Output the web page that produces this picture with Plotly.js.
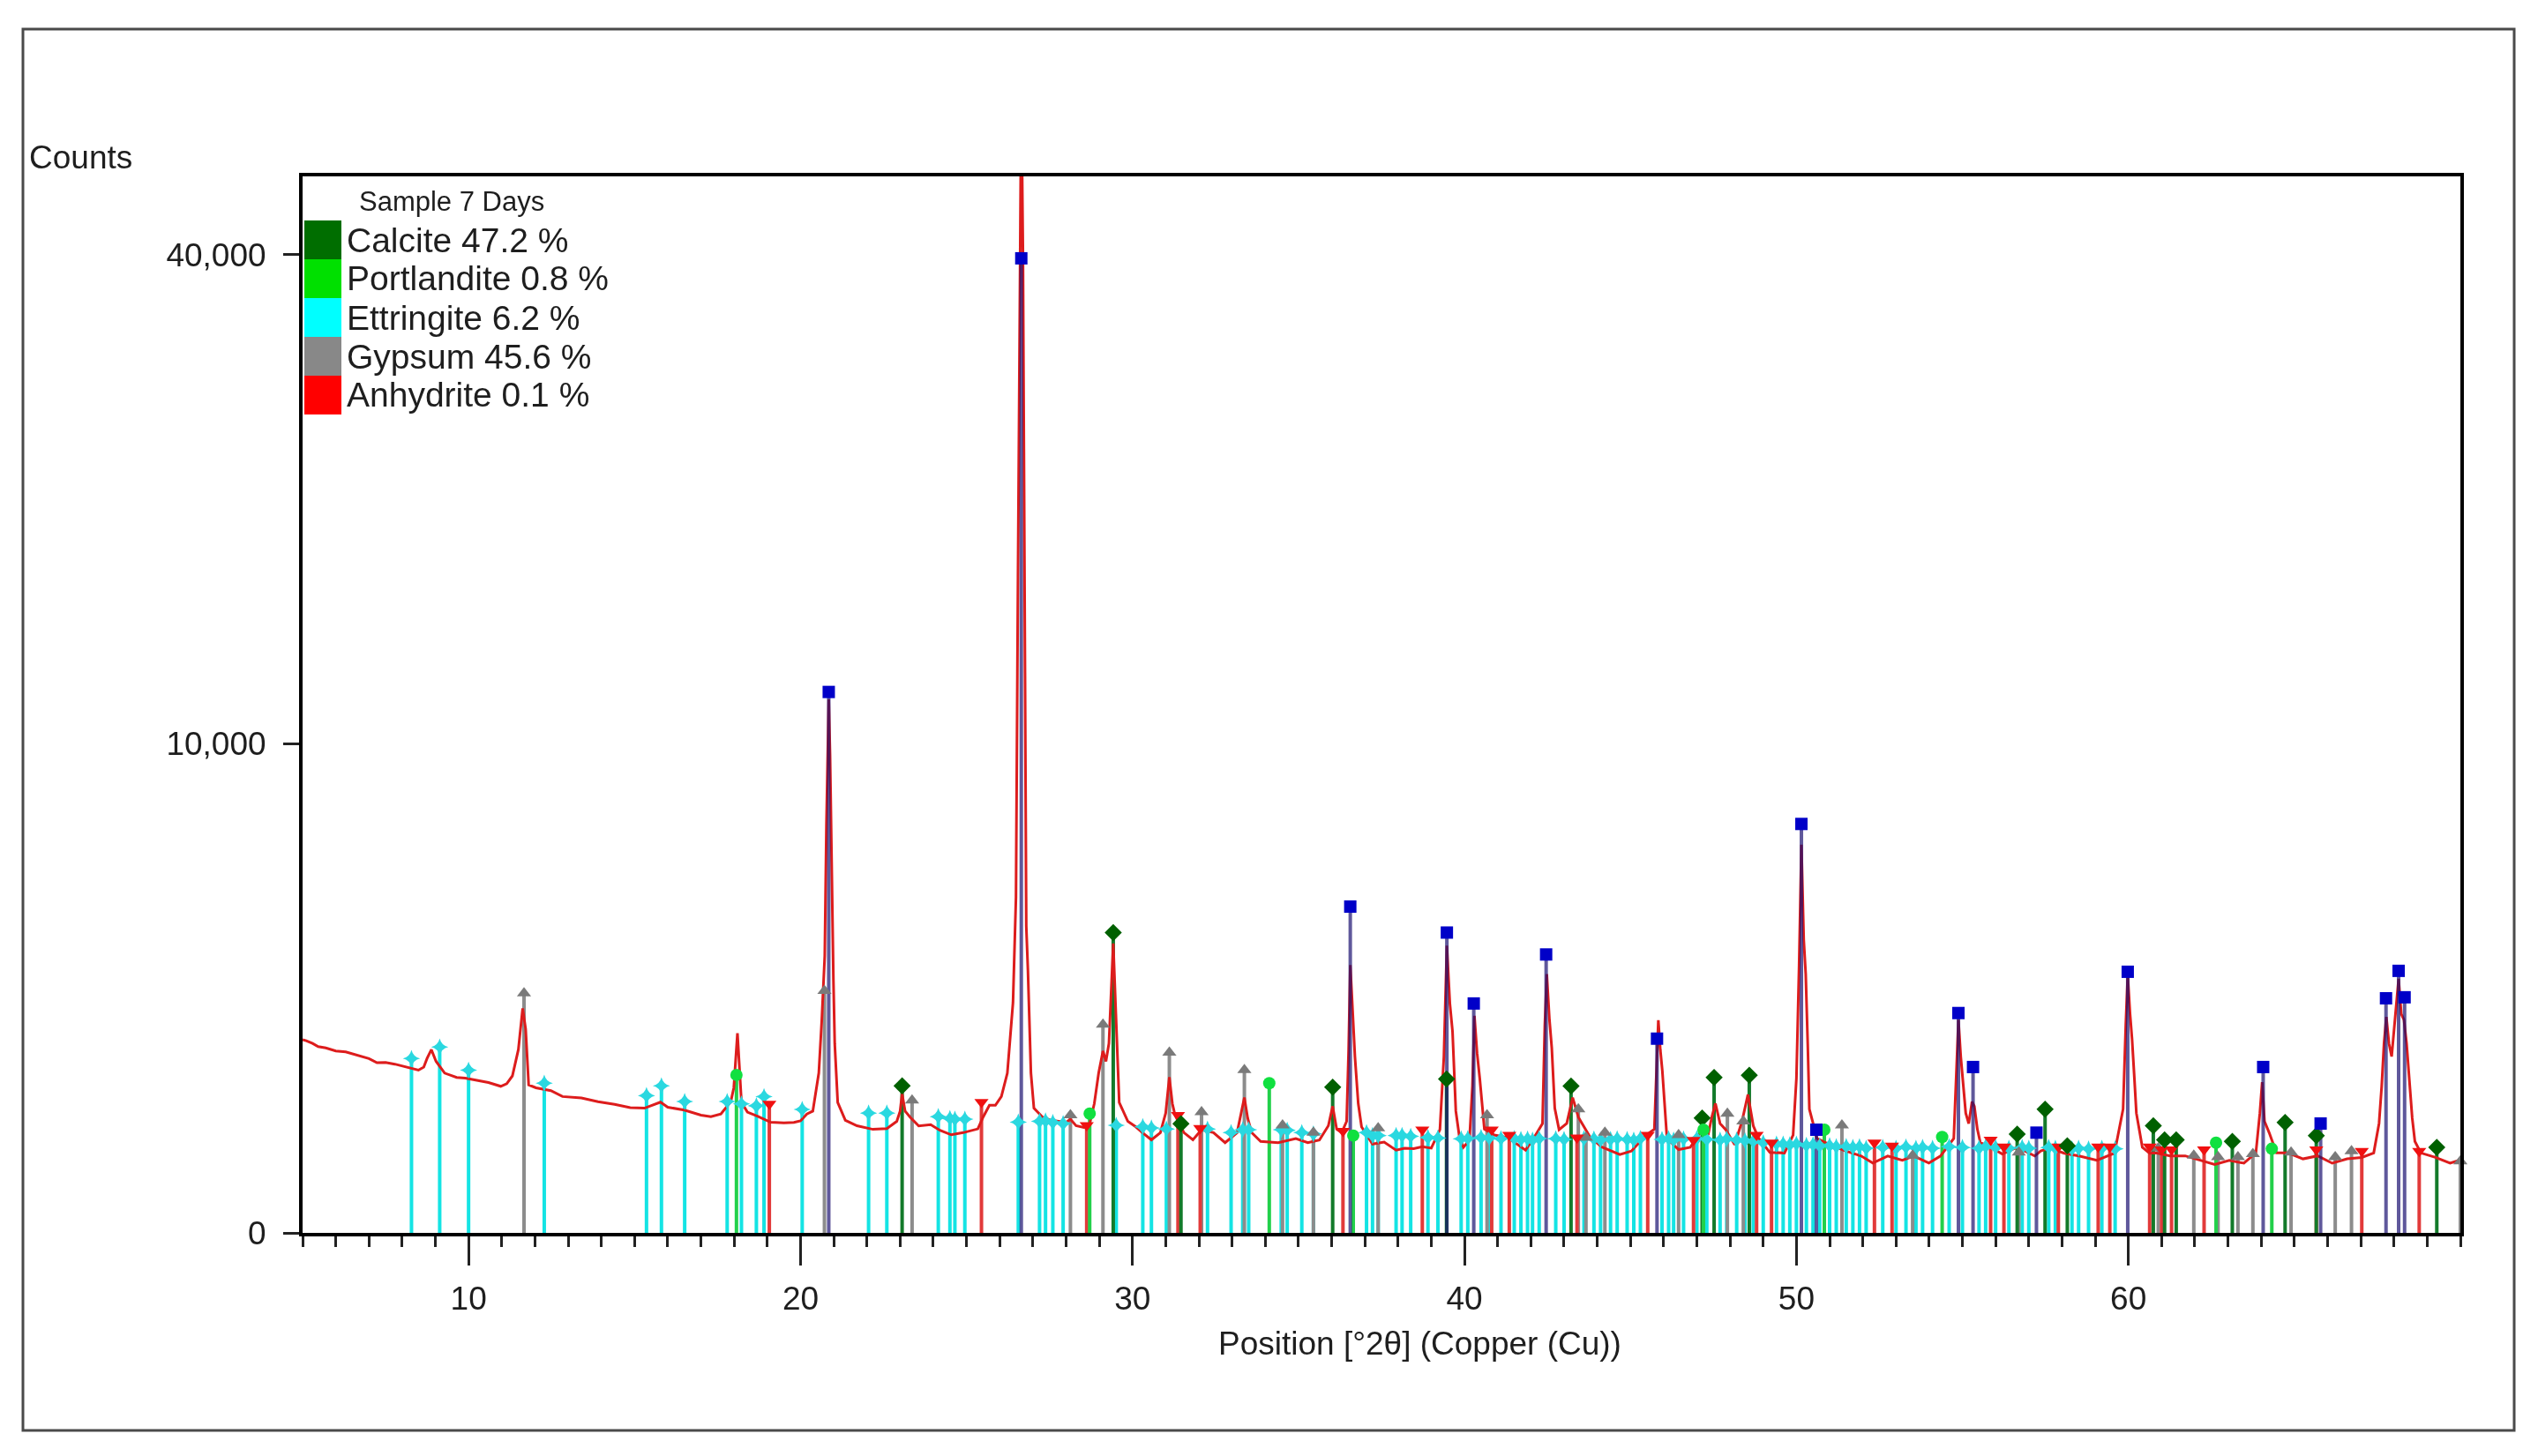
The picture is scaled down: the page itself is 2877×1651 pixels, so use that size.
<!DOCTYPE html>
<html>
<head>
<meta charset="utf-8">
<script src="https://cdn.plot.ly/plotly-3.0.1.min.js"></script>
<style>
  html, body { margin: 0; padding: 0; background: #fff; }
  #xrdPlot { width: 2877px; height: 1651px; }
</style>
</head>
<body>
<div id="xrdPlot"></div>
<script>
/* DATA */
// Measured pattern, position [°2θ] and counts
const twoTheta = [
  5.0, 5.11, 5.3, 5.47, 5.7, 6.0, 6.3, 6.71, 7.0, 7.24, 7.5, 7.78, 8.13, 8.49, 8.65, 8.75, 8.88, 9.02,
  9.28, 9.64, 9.9, 10.26, 10.6, 10.97, 11.15, 11.32, 11.5, 11.63, 11.72, 11.81, 12.03, 12.48, 12.83,
  13.4, 13.9, 14.4, 14.87, 15.3, 15.6, 15.78, 16.0, 16.5, 17.0, 17.3, 17.6, 17.76, 17.9, 17.99, 18.1,
  18.22, 18.4, 18.7, 19.1, 19.5, 19.8, 20.0, 20.19, 20.37, 20.55, 20.64, 20.73, 20.78, 20.82, 20.85,
  20.89, 20.94, 20.99, 21.03, 21.12, 21.35, 21.7, 22.18, 22.6, 22.9, 23.0, 23.06, 23.15, 23.3, 23.56,
  23.92, 24.2, 24.54, 24.9, 25.34, 25.5, 25.69, 25.87, 26.05, 26.23, 26.4, 26.49, 26.55, 26.6, 26.65,
  26.7, 26.75, 26.8, 26.85, 26.94, 27.03, 27.29, 27.55, 27.82, 28.0, 28.13, 28.3, 28.53, 28.71, 28.85,
  28.98, 29.11, 29.2, 29.29, 29.36, 29.42, 29.5, 29.6, 29.86, 30.1, 30.3, 30.57,
  30.84, 31.0, 31.11, 31.2, 31.28, 31.55, 31.82, 32.08, 32.44, 32.79, 33.15, 33.3, 33.37, 33.47,
  33.59, 33.86, 34.39, 34.92, 35.28, 35.63, 35.9, 36.03, 36.15, 36.3, 36.45, 36.51, 36.56, 36.62,
  36.7, 36.8, 36.9, 37.23, 37.58, 37.94, 38.2, 38.47, 38.73, 39.0, 39.26, 39.38, 39.47, 39.56,
  39.64, 39.74, 39.85, 39.97, 40.15, 40.24, 40.3, 40.38, 40.46, 40.6, 40.9, 41.3, 41.53, 41.84,
  42.1, 42.35, 42.42, 42.48, 42.56, 42.63, 42.72, 42.85, 43.08, 43.26, 43.43, 43.79, 44.14, 44.68,
  45.03, 45.47, 45.72, 45.79, 45.84, 45.9, 45.96, 46.1, 46.45, 46.8, 47.16, 47.34, 47.45, 47.56,
  47.7, 47.87, 48.14, 48.36, 48.54, 48.7, 48.85, 49.2, 49.64, 49.9, 50.0, 50.08, 50.15, 50.22,
  50.28, 50.34, 50.39, 50.62, 50.97, 51.41, 51.95, 52.3, 52.75, 53.19, 53.54, 53.99, 54.34, 54.74,
  54.82, 54.88, 54.95, 55.01, 55.1, 55.19, 55.29, 55.36, 55.45, 55.54, 55.85, 56.2, 56.65, 57.18,
  57.36, 57.63, 58.07, 58.51, 59.05, 59.58, 59.84, 59.92, 59.98, 60.05, 60.11, 60.18, 60.24,
  60.42, 60.64, 60.82, 61.26, 61.71, 62.15, 62.6, 63.04, 63.48, 63.84, 63.96, 64.03, 64.1, 64.24,
  64.46, 64.81, 65.26, 65.7, 66.14, 66.59, 67.03, 67.39, 67.55, 67.63, 67.7, 67.77, 67.85, 67.93,
  68.05, 68.14, 68.22, 68.3, 68.38, 68.45, 68.55, 68.63, 68.81, 69.25, 69.69, 69.96
];
const counts = [
  1560, 1543, 1500, 1450, 1430, 1383, 1370, 1316, 1270, 1210, 1215, 1190, 1148, 1107, 1150, 1273, 1404, 1230,
  1067, 1010, 1000, 972, 945, 898, 930, 1030, 1404, 2106, 1737, 916, 880, 845, 777,
  760, 720, 690, 656, 650, 690, 714, 660, 630, 580, 565, 590, 656, 720, 880, 1665,
  715, 610, 570, 512, 505, 510, 525, 590, 620, 1068, 1890, 3215, 7000, 10500, 11900,
  9500, 5000, 2690, 1500, 710, 530, 480, 448, 455, 520, 620, 810, 620, 560, 478,
  490, 440, 402, 420, 452, 560, 680, 680, 777, 1068, 2215, 4720, 18000, 40000, 55000,
  40000, 18000, 3930, 2880, 1068, 650, 560, 530, 520, 510, 540, 480, 465, 500, 700,
  1068, 1384, 1230, 1500, 2400, 3500, 2000, 710, 520, 470, 420, 362,
  420, 600, 1013, 700, 580, 420, 362, 445, 420, 340, 420, 650, 765, 550,
  420, 350, 340, 372, 340, 360, 480, 670, 450, 420, 520, 1400, 3000, 2200,
  1300, 700, 470, 330, 345, 286, 300, 297, 310, 300, 445, 1300, 3450, 2200,
  1700, 620, 380, 306, 360, 900, 1970, 1350, 1000, 450, 400, 380, 340, 286,
  380, 500, 1800, 2800, 1900, 1430, 650, 445, 500, 765, 560, 380, 308, 257,
  280, 400, 450, 1300, 1890, 1400, 1100, 373, 290, 306, 445, 400, 560, 700,
  500, 445, 325, 520, 800, 480, 380, 270, 267, 400, 1000, 3000, 6300, 3600,
  2800, 1500, 640, 373, 330, 286, 247, 204, 247, 220, 247, 204, 247, 373,
  1200, 1900, 1300, 1010, 600, 500, 720, 670, 450, 340, 306, 260, 306, 247,
  280, 300, 265, 247, 220, 265, 640, 1800, 2780, 2000, 1570, 1000, 600,
  306, 265, 267, 248, 248, 220, 195, 220, 203, 267, 600, 950, 520, 420,
  267, 267, 229, 248, 203, 229, 238, 267, 500, 900, 1500, 1950, 1500, 1300,
  2000, 2700, 2000, 1900, 1500, 1000, 550, 350, 267, 238, 203, 220
];

// Reference sticks: position [°2θ] and stick height [counts]
const quartzPos = [20.85, 26.65, 36.56, 39.47, 40.28, 42.46, 45.8, 50.15, 50.6, 54.88, 55.32, 57.23, 59.98, 64.06, 65.79, 67.76, 68.14, 68.32];
const quartzHt  = [12230, 39700, 4450, 3770, 2200, 3240, 1577, 6990, 445, 2020, 1150, 420, 2850, 1150, 500, 2300, 2870, 2320];

const calcitePos = [23.06, 29.42, 31.46, 36.03, 39.46, 43.21, 47.16, 47.52, 48.58, 56.65, 57.49, 58.16, 60.75, 61.09, 61.44, 63.13, 64.72, 65.66, 69.29];
const calciteHt  = [903, 3770, 497, 888, 990, 900, 552, 1010, 1040, 408, 640, 317, 480, 361, 361, 350, 510, 396, 306];

const portlanditePos = [18.07, 28.71, 34.12, 36.65, 47.2, 50.84, 54.39, 62.64, 64.32];
const portlanditeHt  = [1043, 595, 936, 396, 445, 445, 384, 340, 296];

const gypsumPos = [11.67, 20.72, 23.36, 28.13, 29.11, 31.11, 32.08, 33.37, 34.52, 35.45, 37.4, 40.68, 43.43, 43.66, 44.23, 46.45, 47.92, 48.4, 51.37, 53.5, 56.7, 60.9, 61.97, 62.7, 63.3, 63.75, 64.9, 66.23, 66.72, 70.0];
const gypsumHt  = [2400, 2450, 735, 580, 1815, 1360, 610, 1110, 484, 420, 458, 580, 640, 380, 420, 400, 595, 520, 484, 250, 270, 300, 250, 240, 240, 260, 270, 240, 280, 215];

const anhydritePos = [19.06, 25.45, 28.62, 31.37, 32.04, 36.34, 38.73, 40.82, 41.35, 43.39, 45.52, 46.9, 48.8, 49.25, 52.35, 52.88, 55.85, 56.25, 57.89, 59.09, 59.44, 60.64, 61.0, 61.3, 62.28, 65.66, 67.03, 68.76];
const anhydriteHt  = [695, 714, 484, 580, 458, 433, 445, 445, 400, 380, 400, 360, 400, 340, 340, 317, 361, 310, 310, 310, 310, 310, 290, 290, 290, 290, 280, 280];

const ettringitePos = [
  8.28, 9.13, 10.0, 12.28, 15.36, 15.81, 16.51, 17.79, 18.22, 18.67, 18.9, 20.05, 22.05, 22.6, 24.15, 24.5,
  24.65, 24.95, 26.56, 27.2, 27.38, 27.6, 27.91, 29.51, 30.31, 30.57, 31.02, 32.26, 32.97, 33.32, 33.5,
  34.48, 34.66, 35.1, 35.45, 37.05, 37.23, 37.4, 37.94, 38.12, 38.38, 38.9, 39.2, 39.9, 40.1, 40.5, 40.75,
  41.1, 41.5, 41.7, 41.9, 42.05, 42.25, 42.75, 43.0, 43.6, 43.9, 44.1, 44.4, 44.6, 44.9, 45.1, 45.3,
  45.95, 46.15, 46.3, 46.6, 47.0, 47.3, 47.7, 47.9, 48.2, 48.45, 48.7, 49.0, 49.4, 49.6, 49.8, 50.0,
  50.3, 50.5, 50.7, 51.0, 51.2, 51.5, 51.7, 51.9, 52.1, 52.6, 53.0, 53.3, 53.6, 53.8, 54.1, 54.6,
  55.0, 55.5, 55.7, 56.0, 56.4, 56.8, 57.0, 57.6, 57.8, 58.3, 58.5, 58.8, 59.2, 59.6
];
const ettringiteHt = [
  1270, 1444, 1106, 936, 787, 903, 722, 722, 695, 675, 775, 637, 600, 600, 565, 547,
  540, 540, 513, 520, 524, 510, 500, 484, 471, 460, 450, 450, 421, 445, 445,
  445, 440, 421, 410, 420, 396, 396, 396, 396, 390, 380, 375, 370, 372, 380, 375,
  370, 372, 365, 368, 360, 372, 370, 365, 372, 368, 360, 365, 370, 365, 360, 372,
  365, 370, 360, 368, 372, 365, 360, 368, 360, 355, 350, 340, 330, 330, 325, 330,
  320, 325, 315, 318, 310, 312, 305, 310, 300, 305, 300, 308, 300, 305, 300, 310,
  305, 300, 310, 305, 300, 305, 300, 305, 300, 295, 300, 295, 300, 295
];

// Legend rows, axis ticks
const phaseNames = ['Calcite 47.2 %', 'Portlandite 0.8 %', 'Ettringite 6.2 %', 'Gypsum 45.6 %', 'Anhydrite 0.1 %'];
const phaseColors = ['#006e00', '#00e000', '#00ffff', '#888888', '#ff0000'];
const xTickVals = [10, 20, 30, 40, 50, 60];
const yTickCounts = [0, 10000, 40000];
const yTickText = ['0', '10,000', '40,000'];

/* LAYOUT HELPERS (pixel positions of the picture -> paper coords) */
const W = 2877, H = 1651;
const plotL = 343, plotR = 2789, plotT = 200, plotB = 1398;
const px2x = px => (px - plotL) / (plotR - plotL);
const px2y = py => (plotB - py) / (plotB - plotT);
const fontFam = '"Liberation Sans", Arial, sans-serif';

// Counts are drawn on a square-root scale, as in the picture
const sq = v => Math.sqrt(v);

// Vertical sticks from 0 up to each height
function stickTrace(pos, ht, color, width, opacity) {
  let xs = [], ys = [];
  for (let i = 0; i < pos.length; i++) {
    xs.push(pos[i], pos[i], null);
    ys.push(0, sq(ht[i]), null);
  }
  return {
    type: 'scatter', mode: 'lines', x: xs, y: ys,
    line: {color: color, width: width}, opacity: opacity,
    hoverinfo: 'skip', showlegend: false
  };
}

// Marker at the top of each stick
function capTrace(pos, ht, color, symbol, size) {
  return {
    type: 'scatter', mode: 'markers', x: pos, y: ht.map(sq),
    marker: {color: color, symbol: symbol, size: size, line: {width: 0}},
    cliponaxis: false, hoverinfo: 'skip', showlegend: false
  };
}

const patternTrace = {
  type: 'scatter', mode: 'lines', x: twoTheta, y: counts.map(sq),
  line: {color: '#dd1c1c', width: 3},
  hoverinfo: 'skip', showlegend: false
};

const data = [
  stickTrace(ettringitePos, ettringiteHt, '#14e4e4', 4, 1),
  stickTrace(gypsumPos, gypsumHt, '#8c8c8c', 4, 1),
  stickTrace(anhydritePos, anhydriteHt, '#e23a3a', 4, 1),
  stickTrace(calcitePos, calciteHt, '#137a2a', 4, 1),
  stickTrace(portlanditePos, portlanditeHt, '#22d04a', 4, 1),
  patternTrace,
  stickTrace(quartzPos, quartzHt, '#1a1070', 4, 0.7),
  capTrace(ettringitePos, ettringiteHt, '#2ad8e0', 'star-diamond', 14),
  capTrace(gypsumPos, gypsumHt, '#7a7a7a', 'triangle-up', 14),
  capTrace(anhydritePos, anhydriteHt, '#f01010', 'triangle-down', 14),
  capTrace(calcitePos, calciteHt, '#006000', 'diamond', 15),
  capTrace(portlanditePos, portlanditeHt, '#10e040', 'circle', 14),
  capTrace(quartzPos, quartzHt, '#0000c8', 'square', 14)
];

// Legend: coloured boxes and labels
let shapes = [];
let annotations = [];
const rowTop = 250, rowH = 44;
for (let i = 0; i < phaseNames.length; i++) {
  shapes.push({
    type: 'rect', xref: 'paper', yref: 'paper', layer: 'above',
    x0: px2x(345), x1: px2x(387),
    y0: px2y(rowTop + rowH * (i + 1)), y1: px2y(rowTop + rowH * i),
    fillcolor: phaseColors[i], line: {width: 0}
  });
  annotations.push({
    xref: 'paper', yref: 'paper', x: px2x(391), y: px2y(rowTop + rowH * i + rowH / 2),
    xanchor: 'left', yanchor: 'middle', showarrow: false,
    text: phaseNames[i], font: {family: fontFam, size: 39, color: '#1e1e1e'}
  });
}
annotations.push({
  xref: 'paper', yref: 'paper', x: px2x(405), y: px2y(228),
  xanchor: 'left', yanchor: 'middle', showarrow: false,
  text: 'Sample 7 Days', font: {family: fontFam, size: 31, color: '#1e1e1e'}
});
annotations.push({
  xref: 'paper', yref: 'paper', x: px2x(31), y: px2y(178),
  xanchor: 'left', yanchor: 'middle', showarrow: false,
  text: 'Counts', font: {family: fontFam, size: 37, color: '#1e1e1e'}
});
annotations.push({
  xref: 'paper', yref: 'paper', x: px2x(1609), y: px2y(1523),
  xanchor: 'center', yanchor: 'middle', showarrow: false,
  text: 'Position [°2θ] (Copper (Cu))', font: {family: fontFam, size: 37, color: '#1e1e1e'}
});

// Outer picture frame
shapes.push({
  type: 'rect', xref: 'paper', yref: 'paper', layer: 'below',
  x0: px2x(26), x1: px2x(2850), y0: px2y(1622), y1: px2y(33),
  line: {color: '#4a4a4a', width: 3}
});

const layout = {
  width: W, height: H,
  margin: {l: plotL, r: W - plotR, t: plotT, b: H - plotB, pad: 0},
  paper_bgcolor: '#ffffff', plot_bgcolor: '#ffffff',
  font: {family: fontFam, size: 37, color: '#1e1e1e'},
  xaxis: {
    range: [5, 70], tickmode: 'array', tickvals: xTickVals,
    showgrid: false, zeroline: false,
    showline: true, linecolor: '#000', linewidth: 4, mirror: true,
    ticks: 'outside', ticklen: 33, tickwidth: 3, tickcolor: '#222',
    ticklabelstandoff: 6,
    tickfont: {family: fontFam, size: 37, color: '#1e1e1e'},
    minor: {tickmode: 'linear', tick0: 0, dtick: 1, ticks: 'outside', ticklen: 12, tickwidth: 3, tickcolor: '#222', showgrid: false}
  },
  yaxis: {
    range: [0, 216],
    tickmode: 'array', tickvals: yTickCounts.map(sq), ticktext: yTickText,
    showgrid: false, zeroline: false,
    showline: true, linecolor: '#000', linewidth: 4, mirror: true,
    ticks: 'outside', ticklen: 18, tickwidth: 3, tickcolor: '#222',
    ticklabelstandoff: 12,
    tickfont: {family: fontFam, size: 37, color: '#1e1e1e'}
  },
  shapes: shapes,
  annotations: annotations
};

Plotly.newPlot('xrdPlot', data, layout, {displayModeBar: false, staticPlot: true});
</script>
</body>
</html>
